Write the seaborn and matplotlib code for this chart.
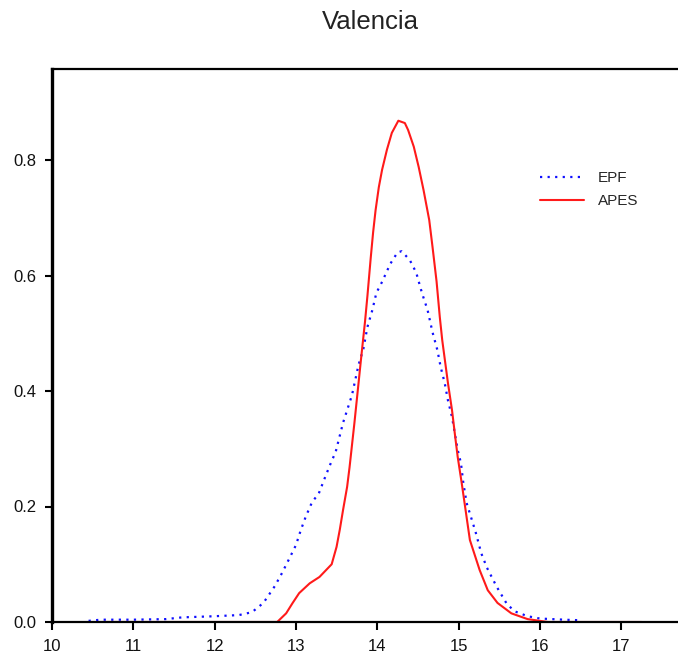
import numpy as np
import pandas as pd
import matplotlib
matplotlib.use("Agg")
import matplotlib.pyplot as plt
import seaborn as sns

# Density estimates of the two series
epf_x = [10.45, 10.6, 11.0, 11.4, 11.6, 12.0, 12.3, 12.46, 12.6, 12.74, 12.83, 12.93,
         13.0, 13.06, 13.12, 13.2, 13.28, 13.36, 13.42, 13.49, 13.58, 13.69, 13.77,
         13.83, 13.88, 13.94, 13.99, 14.06, 14.16, 14.25, 14.3, 14.4, 14.48, 14.55,
         14.62, 14.68, 14.74, 14.78, 14.83, 14.87, 14.92, 14.99, 15.03, 15.06, 15.1,
         15.21, 15.28, 15.35, 15.47, 15.6, 15.7, 15.85, 16.0, 16.3, 16.5]
epf_y = [0.002, 0.004, 0.004, 0.005, 0.008, 0.010, 0.012, 0.017, 0.033, 0.062, 0.085, 0.113,
         0.133, 0.159, 0.182, 0.208, 0.222, 0.251, 0.272, 0.295, 0.345, 0.393, 0.445,
         0.473, 0.511, 0.540, 0.570, 0.589, 0.620, 0.640, 0.642, 0.627, 0.605, 0.570,
         0.540, 0.502, 0.471, 0.442, 0.414, 0.384, 0.355, 0.298, 0.275, 0.240, 0.206,
         0.156, 0.119, 0.094, 0.061, 0.030, 0.018, 0.010, 0.006, 0.004, 0.003]

apes_x = [10.62, 12.77, 12.88, 12.96, 13.04, 13.17, 13.29, 13.44, 13.5, 13.54, 13.58,
          13.63, 13.66, 13.72, 13.8, 13.85, 13.88, 13.92, 13.95, 13.98, 14.02, 14.06,
          14.12, 14.18, 14.26, 14.34, 14.38, 14.45, 14.51, 14.57, 14.64, 14.68, 14.73,
          14.77, 14.8, 14.87, 14.92, 14.96, 14.99, 15.04, 15.14, 15.26, 15.36, 15.48,
          15.65, 15.85, 16.0, 16.1, 17.25]
apes_y = [0.0, 0.0, 0.015, 0.033, 0.050, 0.067, 0.078, 0.100, 0.130, 0.160, 0.194,
          0.234, 0.268, 0.345, 0.454, 0.520, 0.565, 0.630, 0.675, 0.713, 0.753, 0.783,
          0.818, 0.847, 0.868, 0.864, 0.852, 0.823, 0.788, 0.748, 0.696, 0.650, 0.590,
          0.528, 0.488, 0.414, 0.367, 0.320, 0.286, 0.240, 0.142, 0.090, 0.055, 0.033,
          0.015, 0.005, 0.002, 0.0, 0.0]

x_ticks = [10, 11, 12, 13, 14, 15, 16, 17]
y_ticks = [0.0, 0.2, 0.4, 0.6, 0.8]

sns.set_style("white")
plt.rcParams["font.family"] = ["Liberation Sans", "DejaVu Sans"]

W, H = 678, 663
fig = plt.figure(figsize=(W / 100, H / 100), dpi=100)
ax = fig.add_axes([52 / W, 1 - 622 / H, 640 / W, (622 - 69) / H])

epf = pd.DataFrame({"x": epf_x, "y": epf_y})
apes = pd.DataFrame({"x": apes_x, "y": apes_y})

sns.lineplot(data=epf, x="x", y="y", ax=ax, color="#1010ff", linestyle=(0, (1, 2.4)),
             linewidth=1.6, label="EPF", sort=False)
sns.lineplot(data=apes, x="x", y="y", ax=ax, color="#ff1a1a", linewidth=1.5,
             label="APES", sort=False)

ax.set_xlim(10, 10 + 640 / 81.3)
ax.set_ylim(0, (622 - 69) / 577.5)
ax.set_xticks(x_ticks)
ax.set_xticklabels([str(t) for t in x_ticks])
ax.set_yticks(y_ticks)
ax.set_yticklabels([f"{t:.1f}" for t in y_ticks])
ax.set_xlabel("")
ax.set_ylabel("")

for side in ("left", "bottom", "top"):
    ax.spines[side].set_visible(True)
    ax.spines[side].set_color("black")
ax.spines["left"].set_linewidth(2.4)
ax.spines["bottom"].set_linewidth(1.6)
ax.spines["top"].set_linewidth(1.6)
ax.spines["right"].set_visible(False)

ax.tick_params(axis="both", which="major", direction="out", color="black",
               labelsize=12, labelcolor="#111111")
ax.tick_params(axis="x", length=6, width=1.5, pad=6, bottom=True)
ax.tick_params(axis="y", length=5, width=1.5, pad=6, left=True)

fig.text(370 / W, 1 - 22 / H, "Valencia", ha="center", va="center", fontsize=18.5,
         color="#222222")

leg = ax.legend(loc="upper left", bbox_to_anchor=(540 / W, 1 - 171 / H),
                bbox_transform=fig.transFigure, frameon=False, fontsize=11,
                handlelength=2.9, handletextpad=0.9, labelspacing=0.62,
                borderpad=0, borderaxespad=0)

fig.savefig("out.png", dpi=100, facecolor="white")
